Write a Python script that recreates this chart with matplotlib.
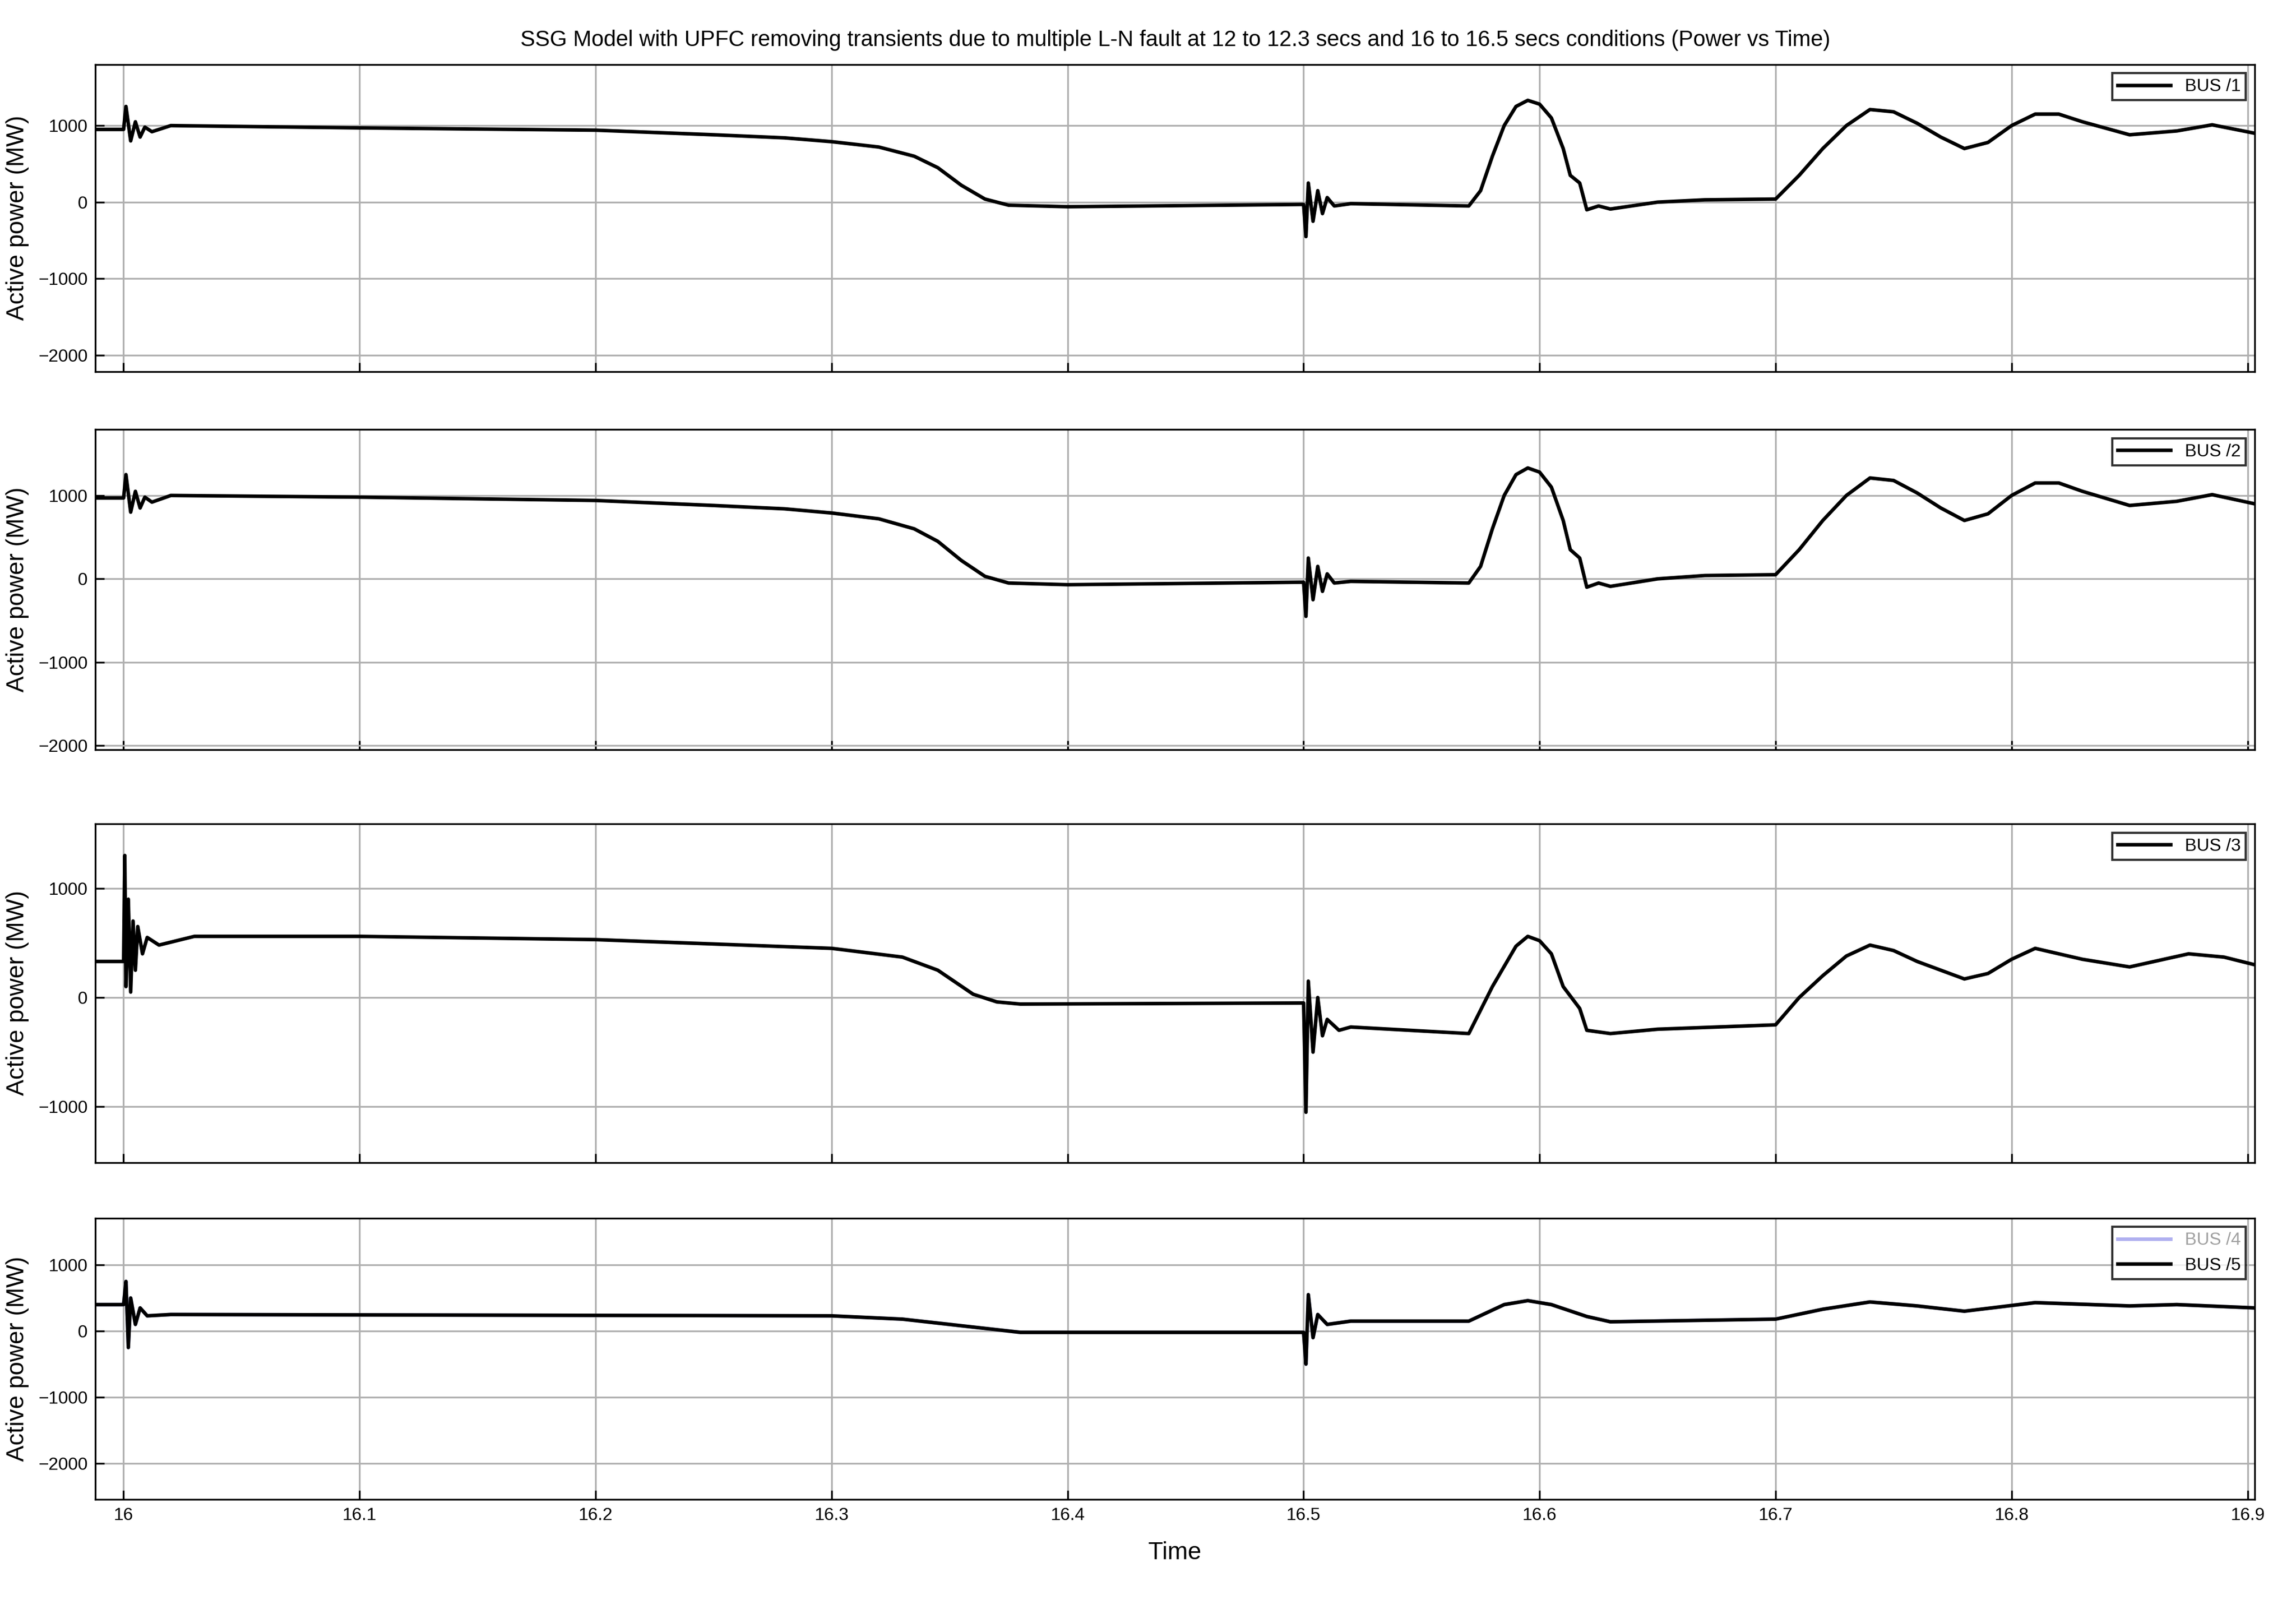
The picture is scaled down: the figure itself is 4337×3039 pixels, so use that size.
import matplotlib
matplotlib.use("Agg")
import matplotlib.pyplot as plt

t1 = [15.988,16.0,16.001,16.003,16.005,16.007,16.009,16.012,16.02,16.1,16.2,16.25,16.28,16.3,16.32,16.335,16.345,16.355,16.365,16.375,16.4,16.5,16.501,16.502,16.504,16.506,16.508,16.51,16.513,16.52,16.57,16.575,16.58,16.585,16.59,16.595,16.6,16.605,16.61,16.613,16.617,16.62,16.625,16.63,16.65,16.67,16.7,16.71,16.72,16.73,16.74,16.75,16.76,16.77,16.78,16.79,16.8,16.81,16.82,16.83,16.85,16.87,16.885,16.903]
bus1 = [950,950,1250,800,1050,850,980,920,1000,970,940,880,840,790,720,600,450,220,40,-40,-60,-30,-450,250,-250,150,-150,60,-50,-20,-50,150,600,1000,1250,1330,1280,1100,700,350,250,-100,-50,-90,0,30,40,350,700,1000,1210,1180,1030,850,700,780,1000,1150,1150,1050,880,930,1010,900]
bus2 = [970,970,1250,800,1050,850,980,920,1000,980,940,880,840,790,720,600,450,220,30,-50,-70,-40,-450,250,-250,150,-150,60,-50,-30,-50,150,600,1000,1250,1330,1280,1100,700,350,250,-100,-50,-90,0,40,50,350,700,1000,1210,1180,1030,850,700,780,1000,1150,1150,1050,880,930,1010,900]
t3 = [15.988,16.0,16.0005,16.001,16.002,16.003,16.004,16.005,16.006,16.008,16.01,16.015,16.03,16.1,16.2,16.3,16.33,16.345,16.36,16.37,16.38,16.5,16.501,16.502,16.504,16.506,16.508,16.51,16.515,16.52,16.57,16.58,16.59,16.595,16.6,16.605,16.61,16.617,16.62,16.63,16.65,16.7,16.71,16.72,16.73,16.74,16.75,16.76,16.78,16.79,16.8,16.81,16.83,16.85,16.875,16.89,16.903]
bus3 = [330,330,1300,100,900,50,700,250,650,400,550,480,560,560,530,450,370,250,30,-40,-60,-50,-1050,150,-500,0,-350,-200,-300,-270,-330,100,470,560,520,400,100,-100,-300,-330,-290,-250,0,200,380,480,430,330,170,220,350,450,350,280,400,370,300]
t5 = [15.988,16.0,16.001,16.002,16.003,16.005,16.007,16.01,16.02,16.3,16.33,16.35,16.37,16.38,16.5,16.501,16.502,16.504,16.506,16.51,16.52,16.57,16.585,16.595,16.605,16.62,16.63,16.7,16.72,16.74,16.76,16.78,16.81,16.85,16.87,16.903]
bus5 = [400,400,750,-250,500,100,350,230,250,230,180,100,20,-20,-20,-500,550,-100,250,100,150,150,400,460,400,220,140,180,330,440,380,300,430,380,400,350]
bus4 = bus5

W, H = 4337, 3039
fig = plt.figure(figsize=(W/300, H/300), dpi=300)
plt.rcParams['font.family'] = ['Liberation Sans', 'DejaVu Sans']
fig.text(0.512, 0.975, "SSG Model with UPFC removing transients due to multiple L-N fault at 12 to 12.3 secs and 16 to 16.5 secs conditions (Power vs Time)",
         ha='center', va='center', fontsize=10)
panels = [
    (0.769, 0.960, (-2215, 1800), [1000, 0, -1000, -2000], [(t1, bus1, 'BUS /1', 'k')]),
    (0.534, 0.733, (-2050, 1790), [1000, 0, -1000, -2000], [(t1, bus2, 'BUS /2', 'k')]),
    (0.2775, 0.488, (-1510, 1590), [1000, 0, -1000], [(t3, bus3, 'BUS /3', 'k')]),
    (0.068, 0.243, (-2550, 1710), [1000, 0, -1000, -2000], [(t5, bus4, 'BUS /4', '#b0b0f0'), (t5, bus5, 'BUS /5', 'k')]),
]
xt = [16.0,16.1,16.2,16.3,16.4,16.5,16.6,16.7,16.8,16.9]
for i, (b, tp, yl, yt, series) in enumerate(panels):
    ax = fig.add_axes([0.0415, b, 0.982-0.0415, tp-b])
    for t, v, lab, c in series:
        ax.plot(t, v, color=c, lw=1.6, label=lab)
    ax.set_xlim(15.988, 16.903)
    ax.set_ylim(*yl)
    ax.set_yticks(yt)
    ax.set_xticks(xt)
    ax.grid(True, color='#b0b0b0', lw=0.8)
    ax.tick_params(direction='in', labelsize=8, length=4)
    ax.set_ylabel('Active power (MW)', fontsize=11)
    if i == 3:
        ax.set_xticklabels(['16','16.1','16.2','16.3','16.4','16.5','16.6','16.7','16.8','16.9'])
        ax.set_xlabel('Time', fontsize=11, labelpad=8)
    else:
        ax.set_xticklabels([])
    leg = ax.legend(loc='upper right', fontsize=8, frameon=True, fancybox=False,
                    edgecolor='k', handlelength=3, borderpad=0.3)
    if i == 3:
        leg.get_texts()[0].set_color('#a0a0a0')
fig.savefig('out.png', dpi=300, facecolor='white')
